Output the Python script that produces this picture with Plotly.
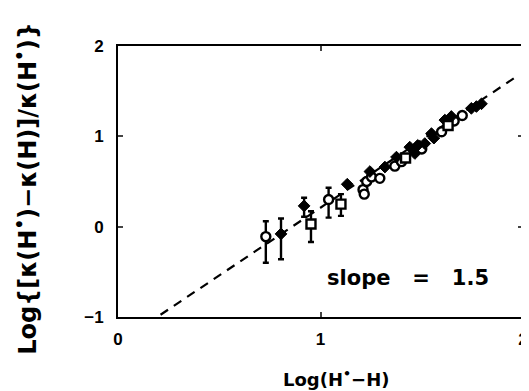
import plotly.graph_objects as go

# Open circles (with error bars for first two)
circ_x = [0.73, 1.04, 1.21, 1.216, 1.228, 1.252, 1.293, 1.367, 1.40, 1.50, 1.598, 1.70, 1.66]
circ_y = [-0.11, 0.30, 0.41, 0.36, 0.50, 0.55, 0.535, 0.67, 0.72, 0.86, 1.05, 1.23, 1.17]
circ_eplus = [0.17, 0.13, 0, 0, 0, 0, 0, 0, 0, 0, 0, 0, 0]
circ_eminus = [0.29, 0.20, 0, 0, 0, 0, 0, 0, 0, 0, 0, 0, 0]

# Filled diamonds
dia_x = [0.805, 0.919, 1.132, 1.244, 1.318, 1.375, 1.441, 1.466, 1.515, 1.548, 1.614, 1.646, 1.745, 1.795, 1.77, 1.48, 1.56]
dia_y = [-0.08, 0.23, 0.47, 0.61, 0.66, 0.77, 0.88, 0.81, 0.92, 1.03, 1.18, 1.22, 1.31, 1.36, 1.33, 0.90, 0.98]
dia_eplus = [0.17, 0.09, 0, 0, 0, 0, 0, 0, 0, 0, 0, 0, 0, 0, 0, 0, 0]
dia_eminus = [0.28, 0.12, 0, 0, 0, 0, 0, 0, 0, 0, 0, 0, 0, 0, 0, 0, 0]

# Open squares
sq_x = [0.953, 1.101, 1.42, 1.63]
sq_y = [0.03, 0.25, 0.76, 1.12]
sq_eplus = [0.14, 0.11, 0, 0]
sq_eminus = [0.20, 0.13, 0, 0]

# Dashed line of slope 1.5
line_x = [0.21, 1.98]
slope = 1.5
intercept = -1.29
line_y = [slope * v + intercept for v in line_x]

x_ticks = [0, 1, 2]
y_ticks = [-1, 0, 1, 2]

x_title = "Log(H<sup>•</sup>−H)"
y_title = "Log{[κ(H<sup>•</sup>)−κ(H)]/κ(H<sup>•</sup>)}"
slope_label = "slope   =   1.5"

fig = go.Figure()
fig.add_trace(go.Scatter(x=line_x, y=line_y, mode="lines",
                         line=dict(color="black", width=2.2, dash="9px,7px"), showlegend=False))

def eb(p, m):
    return dict(type="data", symmetric=False, array=p, arrayminus=m,
                color="black", thickness=2.4, width=3)

fig.add_trace(go.Scatter(x=circ_x, y=circ_y, mode="markers", error_y=eb(circ_eplus, circ_eminus),
                         marker=dict(symbol="circle", size=9, color="white",
                                     line=dict(color="black", width=2.4)), showlegend=False))
fig.add_trace(go.Scatter(x=dia_x, y=dia_y, mode="markers", error_y=eb(dia_eplus, dia_eminus),
                         marker=dict(symbol="diamond", size=9, color="black",
                                     line=dict(color="black", width=1)), showlegend=False))
fig.add_trace(go.Scatter(x=sq_x, y=sq_y, mode="markers", error_y=eb(sq_eplus, sq_eminus),
                         marker=dict(symbol="square", size=9, color="white",
                                     line=dict(color="black", width=2.4)), showlegend=False))

DJ = "DejaVu Sans"
fig.add_annotation(x=1.432, y=-0.57, text=slope_label, showarrow=False,
                   font=dict(size=21, color="black", family=DJ, weight="bold"))
fig.add_annotation(xref="paper", yref="paper", x=0.538, y=-0.225, text=x_title,
                   showarrow=False, xanchor="center", yanchor="middle",
                   font=dict(size=18, color="black", family=DJ, weight="bold"))
fig.add_annotation(xref="paper", yref="paper", x=-0.226, y=0.475, text=y_title,
                   showarrow=False, xanchor="center", yanchor="middle", textangle=-90,
                   font=dict(size=24, color="black", family=DJ, weight="bold"))

tickfont = dict(family="Liberation Sans", size=17, color="black", weight="bold")
fig.update_layout(
    width=521, height=383,
    margin=dict(l=110, r=6, t=38, b=74),
    plot_bgcolor="white", paper_bgcolor="white",
    xaxis=dict(range=[0, 2], tickvals=x_ticks, ticktext=[str(v) for v in x_ticks],
               ticks="inside", ticklen=5, tickwidth=2, mirror="ticks",
               showline=True, linecolor="black", linewidth=2, showgrid=False, zeroline=False,
               automargin=False, tickfont=tickfont, ticklabelstandoff=6),
    yaxis=dict(range=[-1, 2], tickvals=y_ticks, ticktext=["−1", "0", "1", "2"],
               ticks="inside", ticklen=5, tickwidth=2, mirror="ticks",
               showline=True, linecolor="black", linewidth=2, showgrid=False, zeroline=False,
               automargin=False, tickfont=tickfont, ticklabelstandoff=9),
)

fig.write_html("out.html")
